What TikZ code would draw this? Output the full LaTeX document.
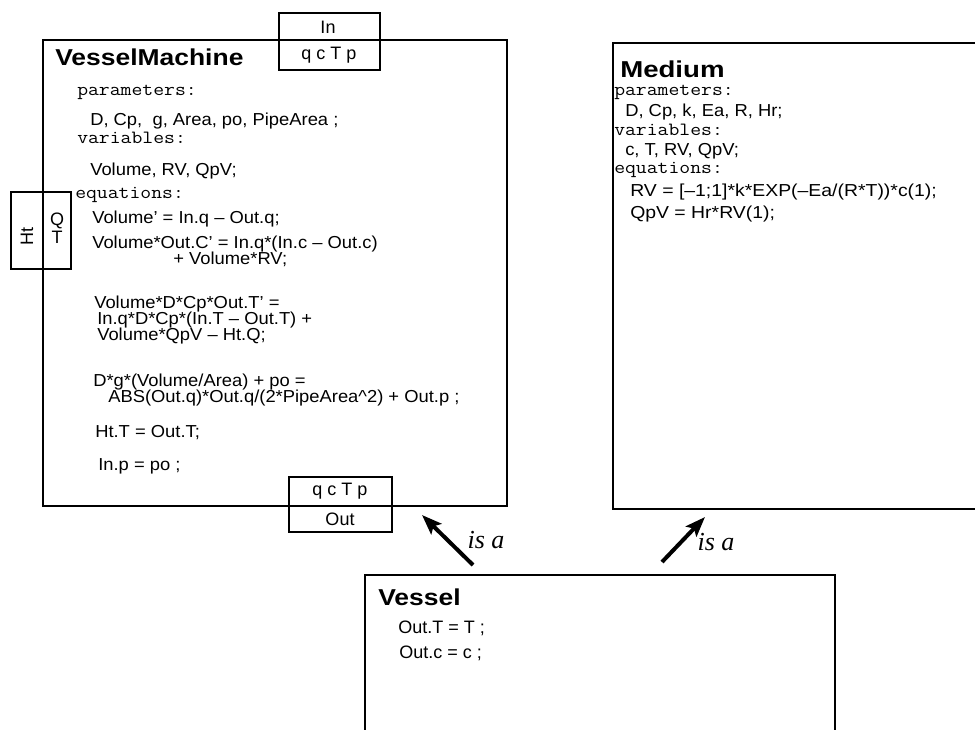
\documentclass[tikz,border=0pt]{standalone}
\usepackage{fontspec}
\usepackage{graphicx}
\setmainfont{Liberation Sans}
\newfontfamily\hv{Liberation Sans}
\newfontfamily\tm{Liberation Serif}
\usetikzlibrary{arrows.meta,fit}
\newcommand{\sx}[2]{\scalebox{#1}[1]{#2}}
\tikzset{
  bigbox/.style={draw=black, line width=2.2pt, inner sep=0pt},
  portbox/.style={draw=black, line width=1.5pt, inner sep=0pt},
  divline/.style={draw=black, line width=1.5pt},
  ttl/.style={anchor=base west, inner sep=0pt, font=\hv\bfseries\fontsize{17.25}{20}\selectfont},
  kw/.style={anchor=base west, inner sep=0pt, font=\ttfamily\fontsize{14}{16}\selectfont},
  eqn/.style={anchor=base west, inner sep=0pt, font=\hv\fontsize{13}{15}\selectfont},
  veq/.style={anchor=base west, inner sep=0pt, font=\hv\fontsize{13.5}{16}\selectfont},
  porttxt/.style={inner sep=0pt, font=\hv\fontsize{13.5}{16}\selectfont},
  isalbl/.style={inner sep=0pt, font=\tm\itshape\fontsize{19.5}{22}\selectfont},
  isarrow/.style={line width=3pt, -{Stealth[length=15pt,width=11pt,inset=3pt]}}
}
\newcommand{\kx}[1]{\sx{1.13}{#1}}
\newcommand{\ex}[1]{\sx{1.06}{#1}}
\begin{document}
\begin{tikzpicture}[x=0.75pt,y=-0.75pt]
\useasboundingbox (0,0) rectangle (975,729);
\clip (0,0) rectangle (975,729);

% ---- boxes ----
\node[bigbox, fit={(43,40) (507,506)}] (vm) {};
\node[bigbox, fit={(613,43) (1000,509)}] (med) {};
\node[bigbox, fit={(365,575) (835,745)}] (ves) {};

% ---- ports ----
\node[portbox, fit={(279,13) (380,70)}] (inport) {};
\node[porttxt] (inlbl) at (328,27) {In};
\node[porttxt] (invars) at (329,55) {q c T p};

\node[portbox, fit={(289,477) (392,532)}] (outport) {};
\node[porttxt] (outvars) at (340,491) {q c T p};
\node[porttxt] (outlbl) at (340,519) {Out};

\node[portbox, fit={(11,192) (71,269)}] (htport) {};
\draw[divline] (43,192) -- (43,269);
\node[porttxt, rotate=90] (htlbl) at (27,236) {Ht};
\node[porttxt] (qlbl) at (57,221) {Q};
\node[porttxt] (tlbl) at (57,237) {T};

% ---- VesselMachine contents ----
\node[ttl] (vmtitle) at (55,65) {\sx{1.15}{VesselMachine}};
\node[kw] (vmpar) at (77,95) {\kx{parameters:}};
\node[eqn] (vmp1) at (90,125) {\ex{D, Cp,\ \ g, Area, po, PipeArea ;}};
\node[kw] (vmvar) at (77,143) {\kx{variables:}};
\node[eqn] (vmv1) at (90,175) {\ex{Volume, RV, QpV;}};
\node[kw] (vmeq) at (75,198) {\kx{equations:}};
\node[eqn] (e1) at (92,223) {\ex{Volume’ = In.q – Out.q;}};
\node[eqn] (e2) at (92,248) {\ex{Volume*Out.C’ = In.q*(In.c – Out.c)}};
\node[eqn] (e3) at (173,264) {\ex{+ Volume*RV;}};
\node[eqn] (e4) at (94,308) {\ex{Volume*D*Cp*Out.T’ =}};
\node[eqn] (e5) at (97,324) {\ex{In.q*D*Cp*(In.T – Out.T) +}};
\node[eqn] (e6) at (97,340) {\ex{Volume*QpV – Ht.Q;}};
\node[eqn] (e7) at (93,386) {\ex{D*g*(Volume/Area) + po =}};
\node[eqn] (e8) at (108,402) {\ex{ABS(Out.q)*Out.q/(2*PipeArea\textasciicircum 2) + Out.p ;}};
\node[eqn] (e9) at (95,437) {\ex{Ht.T = Out.T;}};
\node[eqn] (e10) at (98,470) {\ex{In.p = po ;}};

% ---- Medium contents ----
\node[ttl] (medtitle) at (620,77) {\sx{1.2}{Medium}};
\node[kw] (medpar) at (614,95) {\kx{parameters:}};
\node[eqn] (mp1) at (625,116) {\ex{D, Cp, k, Ea, R, Hr;}};
\node[kw] (medvar) at (614,135) {\kx{variables:}};
\node[eqn] (mv1) at (625,155) {\ex{c, T, RV, QpV;}};
\node[kw] (medeq) at (614,173) {\kx{equations:}};
\node[eqn] (m1) at (630,196) {\sx{1.12}{RV = [–1;1]*k*EXP(–Ea/(R*T))*c(1);}};
\node[eqn] (m2) at (630,218) {\sx{1.12}{QpV = Hr*RV(1);}};

% ---- Vessel contents ----
\node[ttl] (vestitle) at (378,605) {\sx{1.15}{Vessel}};
\node[veq] (v1) at (398,633) {Out.T = T ;};
\node[veq] (v2) at (399,658) {Out.c = c ;};

% ---- is-a arrows ----
\coordinate (a1tail) at (473,565);
\coordinate (a1tip) at (422,515);
\coordinate (a2tail) at (662,562);
\coordinate (a2tip) at (705,517);
\draw[isarrow] (a1tail) -- (a1tip);
\draw[isarrow] (a2tail) -- (a2tip);
\node[isalbl] (isa1) at (486,540) {is a};
\node[isalbl] (isa2) at (716,542) {is a};
\end{tikzpicture}
\end{document}
